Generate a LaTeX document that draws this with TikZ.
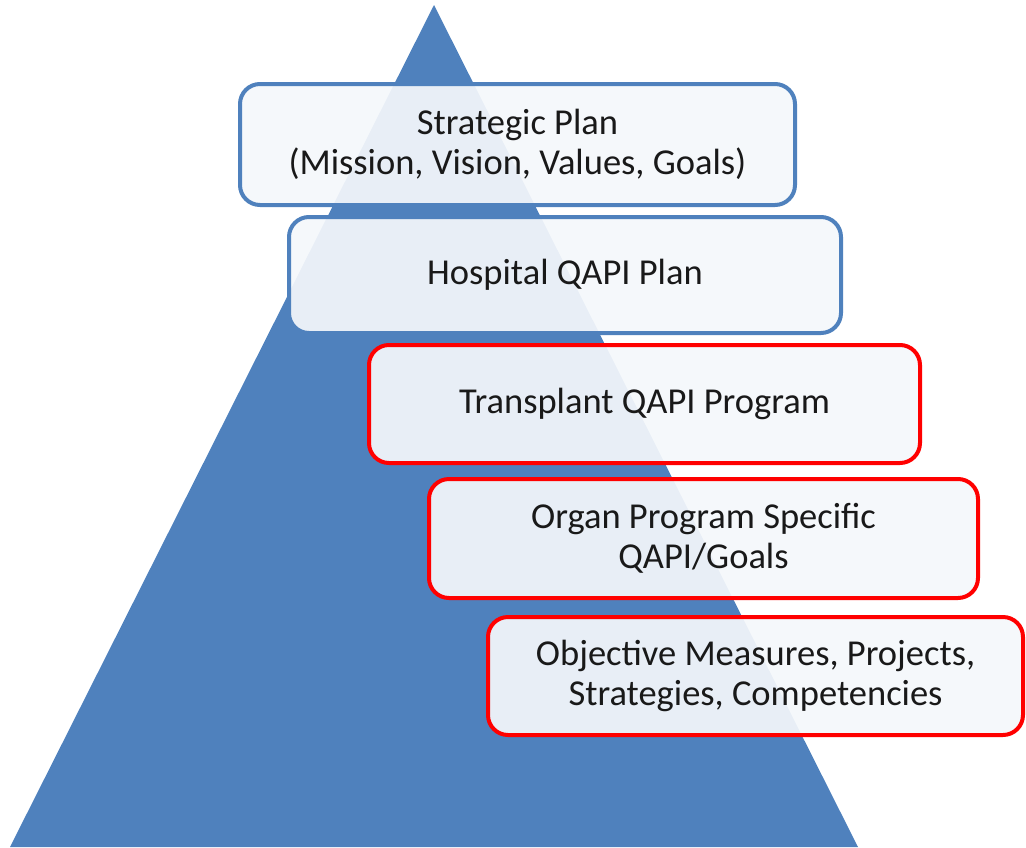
\documentclass[tikz,border=0pt]{standalone}
\usepackage{fontspec}
\setmainfont{Carlito}
\definecolor{pyrblue}{HTML}{4F81BD}
\definecolor{boxfill}{HTML}{F4F7FB}
\tikzset{
  tier/.style={draw=pyrblue, line width=4pt, rounded corners=20pt,
    fill=boxfill, fill opacity=0.93, text opacity=1, text=black!90,
    align=center, inner sep=0pt, font=\fontsize{36.5}{40}\selectfont},
  tierred/.style={tier, draw=red}
}
\begin{document}
\begin{tikzpicture}[x=1pt, y=-1pt]
      \useasboundingbox (0,0) rectangle (1026,847);
      \coordinate (apex) at (434,5);
      \coordinate (baseR) at (858,847);
      \coordinate (baseL) at (10,847);
      \fill[pyrblue] (apex) -- (baseR) -- (baseL) -- cycle;
      \begin{scope}
        \node[tier, minimum width=555pt, minimum height=121pt] (strat) at (517.5,144.5) {Strategic Plan\\(Mission, Vision, Values, Goals)};
        \node[tier, minimum width=552pt, minimum height=116pt] (hosp) at (565,275) {Hospital QAPI Plan};
        \node[tierred, minimum width=551pt, minimum height=118pt] (trans) at (644.5,404) {Transplant QAPI Program};
        \node[tierred, minimum width=549pt, minimum height=119pt] (organ) at (703.5,538.5) {Organ Program Specific\\QAPI/Goals};
        \node[tierred, minimum width=535pt, minimum height=118pt] (meas) at (755.5,676) {Objective Measures, Projects,\\Strategies, Competencies};
      \end{scope}
    \end{tikzpicture}
\end{document}
